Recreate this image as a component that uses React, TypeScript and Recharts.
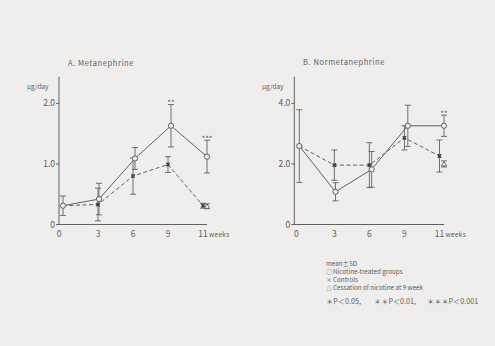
import React from 'react';
import { LineChart, Line, XAxis, YAxis, ErrorBar, ReferenceDot } from 'recharts';

const weeks = ['0', '3', '6', '9', '11'];

const metaNicotine = [0.31, 0.42, 1.09, 1.63, 1.12];
const metaNicotineSD = [0.16, 0.26, 0.18, 0.35, 0.27];
const metaControl = [0.31, 0.33, 0.8, 0.99, 0.31];
const metaControlSD = [null, 0.27, 0.3, 0.13, 0.04];
const metaCessation = [null, null, null, null, 0.3];
const metaCessationSD = [null, null, null, null, 0.04];
const metaStars = ['', '', '', '**', '***'];

const normNicotine = [2.59, 1.08, 1.82, 3.26, 3.26];
const normNicotineSD = [1.2, 0.3, 0.59, 0.68, 0.35];
const normControl = [2.59, 1.96, 1.96, 2.86, 2.26];
const normControlSD = [null, 0.5, 0.74, 0.4, 0.53];
const normCessation = [null, null, null, null, 2.0];
const normCessationSD = [null, null, null, null, 0.1];
const normStars = ['', '', '', '', '**'];

const pLabels = ['＊P＜0.05,', '＊＊P＜0.01,', '＊＊＊P＜0.001'];

const INK = '#616161';
const TXT = '#5c5c5c';
const BG = '#efeeec';
const FONT = "'Noto Sans CJK JP', 'DejaVu Sans', sans-serif";

const buildRows = (
  nic: number[], nicSD: number[], ctl: number[], ctlSD: (number | null)[],
  cess: (number | null)[], cessSD: (number | null)[]
) =>
  weeks.map((w, i) => ({
    week: w,
    nic: nic[i],
    nicSD: nicSD[i],
    ctl: ctl[i],
    ctlSD: ctlSD[i],
    cess: cess[i],
    cessSD: cessSD[i],
  }));

const dataA = buildRows(metaNicotine, metaNicotineSD, metaControl, metaControlSD, metaCessation, metaCessationSD);
const dataB = buildRows(normNicotine, normNicotineSD, normControl, normControlSD, normCessation, normCessationSD);

const CircleDot = (p: any) => {
  if (p.cx == null || p.cy == null || p.value == null) return <g key={p.key} />;
  return <circle key={p.key} cx={p.cx} cy={p.cy} r={2.6} fill={BG} stroke={INK} strokeWidth={1} />;
};
const CrossDot = (p: any) => {
  if (p.cx == null || p.cy == null || p.value == null) return <g key={p.key} />;
  const s = 1.7;
  return (
    <path key={p.key}
      d={`M${p.cx - s},${p.cy - s}L${p.cx + s},${p.cy + s}M${p.cx - s},${p.cy + s}L${p.cx + s},${p.cy - s}`}
      stroke="#3a3a3a" strokeWidth={1.4} fill="none" />
  );
};
const TriDot = (p: any) => {
  if (p.cx == null || p.cy == null || p.value == null) return <g key={p.key} />;
  const s = 2.6;
  return (
    <path key={p.key}
      d={`M${p.cx},${p.cy - s}L${p.cx + s},${p.cy + s * 0.8}L${p.cx - s},${p.cy + s * 0.8}Z`}
      stroke={INK} strokeWidth={0.9} fill={BG} />
  );
};

const makeXTick = (firstShift: number) => (p: any) => {
  const { x, y, payload, index } = p;
  const v = payload.value;
  if (v === '11') {
    return (
      <g>
        <text x={x} y={y + 12} textAnchor="middle" fontSize={8.5} fill={TXT} fontFamily={FONT}>11</text>
        <text x={x + 6} y={y + 12} textAnchor="start" fontSize={6.5} fill={TXT} fontFamily={FONT} letterSpacing={0.3}>weeks</text>
      </g>
    );
  }
  return (
    <text x={x + (index === 0 ? firstShift : 0)} y={y + 12} textAnchor="middle" fontSize={8.5} fill={TXT} fontFamily={FONT}>
      {v}
    </text>
  );
};

const yTickFmt = (v: number) => (v === 0 ? '0' : v.toFixed(1));

const starShape = (text: string) => (p: any) => (
  <text x={p.cx} y={p.cy + 1.5} textAnchor="middle" fontSize={8} fill={TXT} fontFamily={FONT}>{text}</text>
);

type PanelProps = {
  data: any[];
  nic: number[];
  nicSD: number[];
  stars: string[];
  yMax: number;
  yTicks: number[];
  left: number;
  marginLeft: number;
  marginRight: number;
  padMain: { left: number; right: number };
  padCtl: { left: number; right: number };
  firstShift: number;
};

const Panel = ({ data, nic, nicSD, stars, yMax, yTicks, left, marginLeft, marginRight, padMain, padCtl, firstShift }: PanelProps) => (
  <div style={{ position: 'absolute', left, top: 0 }}>
    <LineChart width={250} height={346} data={data}
      margin={{ top: 76.7, right: marginRight, bottom: 101.5, left: marginLeft }}>
      <XAxis xAxisId="main" dataKey="week" type="category" scale="point" padding={padMain} hide />
      <XAxis xAxisId="ctl" dataKey="week" type="category" scale="point" padding={padCtl}
        height={20} interval={0} tickLine={false} tickSize={0} tickMargin={0}
        axisLine={{ stroke: INK, strokeWidth: 1 }} tick={makeXTick(firstShift)} />
      <YAxis type="number" domain={[0, yMax]} ticks={yTicks} allowDataOverflow width={30}
        tickFormatter={yTickFmt} tickSize={3} tickMargin={1}
        axisLine={{ stroke: INK, strokeWidth: 1 }} tickLine={{ stroke: INK, strokeWidth: 1 }}
        tick={{ fontSize: 8.5, fill: TXT, fontFamily: FONT }} />
      <Line xAxisId="ctl" dataKey="ctl" stroke={INK} strokeWidth={1} strokeDasharray="4 2.5"
        dot={CrossDot} activeDot={false} isAnimationActive={false} connectNulls>
        <ErrorBar dataKey="ctlSD" width={3} stroke={INK} strokeWidth={0.9} direction="y" />
      </Line>
      <Line xAxisId="main" dataKey="nic" stroke={INK} strokeWidth={1}
        dot={CircleDot} activeDot={false} isAnimationActive={false}>
        <ErrorBar dataKey="nicSD" width={3} stroke={INK} strokeWidth={0.9} direction="y" />
      </Line>
      <Line xAxisId="main" dataKey="cess" stroke="none" strokeWidth={0}
        dot={TriDot} activeDot={false} isAnimationActive={false}>
        <ErrorBar dataKey="cessSD" width={3} stroke={INK} strokeWidth={0.9} direction="y" />
      </Line>
      {stars.map((s, i) =>
        s ? (
          <ReferenceDot key={i} xAxisId="main" x={weeks[i]} y={nic[i] + nicSD[i]} r={0}
            shape={starShape(s)} />
        ) : null
      )}
    </LineChart>
  </div>
);

const legendLines = [
  { mark: '○', text: 'Nicotine-treated groups' },
  { mark: '×', text: 'Controls' },
  { mark: '△', text: 'Cessation of nicotine at 9 week' },
];

const pX = [326, 374, 427];

export default function App() {
  return (
    <div style={{ position: 'absolute', left: 0, top: 0, width: 495, height: 346, background: BG, overflow: 'hidden', fontFamily: FONT }}>
      <Panel data={dataA} nic={metaNicotine} nicSD={metaNicotineSD} stars={metaStars}
        yMax={2.44} yTicks={[0, 1, 2]} left={0} marginLeft={29} marginRight={43}
        padMain={{ left: 4, right: 0 }} padCtl={{ left: 4, right: 4 }} firstShift={-4} />
      <Panel data={dataB} nic={normNicotine} nicSD={normNicotineSD} stars={normStars}
        yMax={4.88} yTicks={[0, 2, 4]} left={245} marginLeft={19.3} marginRight={51}
        padMain={{ left: 5, right: 0 }} padCtl={{ left: 5, right: 4.5 }} firstShift={-3} />
      <svg width={495} height={346} style={{ position: 'absolute', left: 0, top: 0, pointerEvents: 'none' }}>
        <g fill={TXT} fontFamily={FONT}>
          <text x={68} y={65.5} fontSize={7.5} letterSpacing={0.6}>A.  Metanephrine</text>
          <text x={303} y={64.5} fontSize={7.5} letterSpacing={0.6}>B.  Normetanephrine</text>
          <text x={27} y={89} fontSize={6.5}>μg/day</text>
          <text x={262} y={89} fontSize={6.5}>μg/day</text>
          <text x={326} y={265.5} fontSize={6.3}>mean±SD</text>
          {legendLines.map((l, i) => (
            <g key={i}>
              <text x={326} y={274 + i * 7.8} fontSize={6}>{l.mark}</text>
              <text x={333} y={274 + i * 7.8} fontSize={6.3}>{l.text}</text>
            </g>
          ))}
          {pLabels.map((t, i) => (
            <text key={i} x={pX[i]} y={304} fontSize={7.2}>{t}</text>
          ))}
        </g>
      </svg>
    </div>
  );
}
